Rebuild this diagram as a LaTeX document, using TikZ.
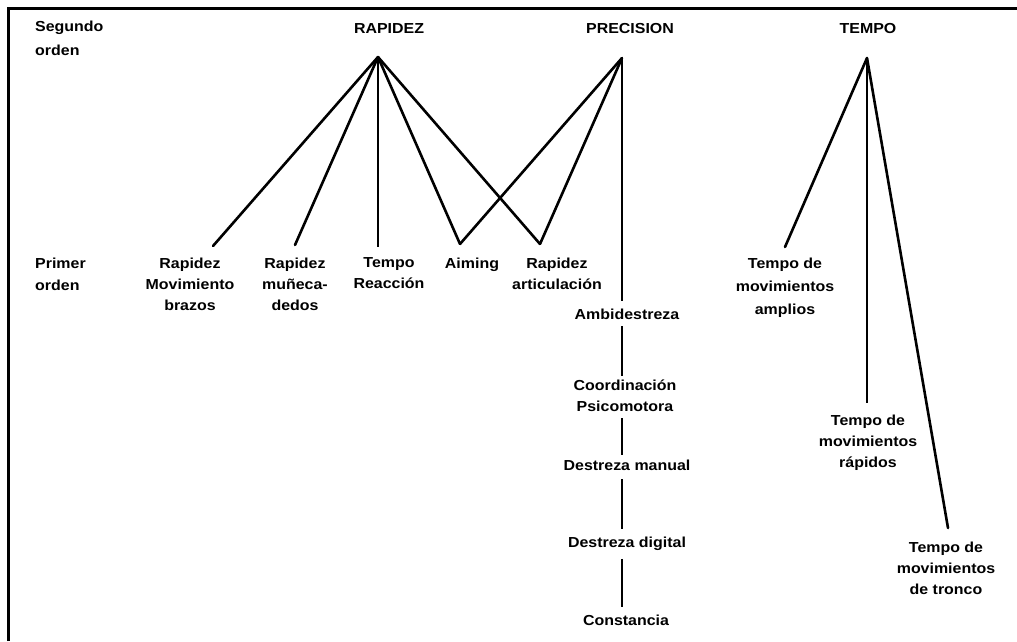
\documentclass[tikz,border=0pt]{standalone}
\usepackage{fontspec}
\newfontfamily\lblfont{Liberation Sans}[FakeStretch=1.1]
\begin{document}
\begin{tikzpicture}[x=1pt,y=-1pt,
  lbl/.style={font=\lblfont\bfseries\fontsize{14.5}{21}\selectfont, align=center, inner sep=0pt, anchor=north},
  lbll/.style={lbl, align=left, anchor=north west},
  thick line/.style={line width=2.6pt, line cap=round, line join=round},
  thin line/.style={line width=1.8pt, line cap=butt}]
\useasboundingbox (0,0) rectangle (1017,641);
% frame (top and left only)
\draw[line width=3pt] (8.5,641) -- (8.5,8.5) -- (1017,8.5);

% second order titles
\node[lbll, font=\lblfont\bfseries\fontsize{14.5}{24}\selectfont] (seg) at (35,21) {Segundo\\orden};
\node[lbl] (rap) at (389,23) {RAPIDEZ};
\node[lbl] (pre) at (630,23) {PRECISION};
\node[lbl] (tem) at (868,23) {TEMPO};

% apexes
\coordinate (aR) at (378,57);
\coordinate (aP) at (622,58);
\coordinate (aT) at (867,58);

% first order
\node[lbll, font=\lblfont\bfseries\fontsize{14.5}{22}\selectfont] (pri) at (35,258) {Primer\\orden};
\node[lbl] (rmb) at (190,258) {Rapidez\\Movimiento\\brazos};
\node[lbl] (rmd) at (295,258) {Rapidez\\muñeca-\\dedos};
\node[lbl] (tre) at (389,257) {Tempo\\Reacción};
\node[lbl] (aim) at (472,258) {Aiming};
\node[lbl] (rar) at (557,258) {Rapidez\\articulación};

\node[lbl] (amb) at (627,309) {Ambidestreza};
\node[lbl] (coo) at (625,380) {Coordinación\\Psicomotora};
\node[lbl] (dma) at (627,460) {Destreza manual};
\node[lbl] (ddi) at (627,537) {Destreza digital};
\node[lbl] (con) at (626,615) {Constancia};

\node[lbl, font=\lblfont\bfseries\fontsize{14.5}{23}\selectfont] (tam) at (785,258) {Tempo de\\movimientos\\amplios};
\node[lbl] (tra) at (868,415) {Tempo de\\movimientos\\rápidos};
\node[lbl] (ttr) at (946,542) {Tempo de\\movimientos\\de tronco};

% connector ends
\coordinate (eRMB) at (213,246);
\coordinate (eRMD) at (295,245);
\coordinate (eTRE) at (378,247);
\coordinate (eAIM) at (460,244);
\coordinate (eRAR) at (540,244);
\coordinate (eTAM) at (785,247);
\coordinate (eTRA) at (867,403);
\coordinate (eTTR) at (948,528);

% RAPIDEZ
\draw[thick line] (aR) -- (eRMB);
\draw[thick line] (aR) -- (eRMD);
\draw[thin line] (aR) -- (eTRE);
\draw[thick line] (aR) -- (eAIM);
\draw[thick line] (aR) -- (eRAR);
% PRECISION
\draw[thick line] (aP) -- (eAIM);
\draw[thick line] (aP) -- (eRAR);
\draw[thin line] (aP) -- ([yshift=8pt]amb.north -| aP);
\draw[thin line] ([yshift=-6pt]amb.south -| aP) -- ([yshift=4pt]coo.north -| aP);
\draw[thin line] ([yshift=-6pt]coo.south -| aP) -- ([yshift=5pt]dma.north -| aP);
\draw[thin line] ([yshift=-8pt]dma.south -| aP) -- ([yshift=8pt]ddi.north -| aP);
\draw[thin line] ([yshift=-8pt]ddi.south -| aP) -- ([yshift=8pt]con.north -| aP);
% TEMPO
\draw[thick line] (aT) -- (eTAM);
\draw[thin line] (aT) -- (eTRA);
\draw[thick line] (aT) -- (eTTR);
\end{tikzpicture}
\end{document}
